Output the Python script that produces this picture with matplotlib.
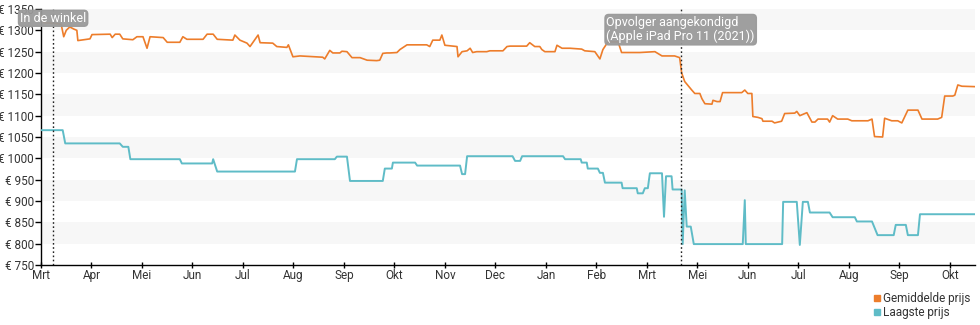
import matplotlib
matplotlib.use("Agg")
import matplotlib.pyplot as plt
from matplotlib.lines import Line2D

plt.rcParams['font.family'] = ['Roboto', 'DejaVu Sans']

# x in months since March 2020
month_labels = ['Mrt', 'Apr', 'Mei', 'Jun', 'Jul', 'Aug', 'Sep', 'Okt', 'Nov', 'Dec',
                'Jan', 'Feb', 'Mrt', 'Mei', 'Jun', 'Jul', 'Aug', 'Sep', 'Okt']
y_ticks = [750, 800, 850, 900, 950, 1000, 1050, 1100, 1150, 1200, 1250, 1300, 1350]

avg_x = [0.00, 0.05, 0.30, 0.40, 0.45, 0.50, 0.57, 0.65, 0.71, 0.73, 0.97, 1.01, 1.37, 1.41,
         1.47, 1.56, 1.62, 1.82, 1.90, 2.02, 2.10, 2.16, 2.42, 2.50, 2.75, 2.81, 2.89, 3.21,
         3.29, 3.41, 3.49, 3.80, 3.84, 3.94, 4.08, 4.14, 4.30, 4.34, 4.59, 4.67, 4.87, 4.90,
         4.99, 5.13, 5.58, 5.62, 5.72, 5.78, 5.92, 5.96, 6.06, 6.16, 6.32, 6.46, 6.65, 6.71,
         6.77, 6.85, 6.91, 7.05, 7.11, 7.25, 7.64, 7.70, 7.76, 7.90, 7.94, 8.00, 8.24, 8.26,
         8.34, 8.44, 8.50, 8.55, 8.63, 8.83, 8.89, 9.15, 9.23, 9.29, 9.62, 9.68, 9.78, 9.88,
         9.92, 9.98, 10.08, 10.18, 10.22, 10.32, 10.48, 10.71, 10.77, 10.97, 11.07, 11.13,
         11.23, 11.43, 11.50, 11.70, 11.86, 12.16, 12.30, 12.55, 12.65, 12.69, 12.75, 12.89,
         12.95, 13.05, 13.09, 13.15, 13.29, 13.31, 13.39, 13.45, 13.50, 13.88, 13.94, 14.00,
         14.08, 14.10, 14.20, 14.28, 14.30, 14.48, 14.53, 14.67, 14.73, 14.93, 14.97, 15.03,
         15.17, 15.27, 15.33, 15.39, 15.58, 15.62, 15.68, 15.78, 15.98, 16.06, 16.38, 16.46,
         16.51, 16.67, 16.71, 16.85, 16.97, 17.05, 17.17, 17.37, 17.45, 17.76, 17.84, 17.90,
         18.06, 18.10, 18.16, 18.24, 18.50]
avg_y = [1335, 1318, 1316, 1314, 1285, 1300, 1308, 1303, 1300, 1276, 1280, 1290, 1291, 1283,
         1291, 1291, 1280, 1278, 1285, 1285, 1258, 1285, 1283, 1272, 1272, 1285, 1279, 1279,
         1291, 1291, 1279, 1277, 1289, 1277, 1270, 1262, 1289, 1271, 1270, 1262, 1260, 1266,
         1238, 1240, 1237, 1233, 1253, 1247, 1247, 1251, 1250, 1236, 1236, 1230, 1229, 1230,
         1246, 1247, 1247, 1248, 1255, 1266, 1266, 1262, 1277, 1277, 1289, 1265, 1262, 1238,
         1250, 1252, 1258, 1248, 1250, 1250, 1252, 1252, 1262, 1263, 1263, 1271, 1262, 1262,
         1255, 1250, 1250, 1250, 1265, 1258, 1258, 1256, 1252, 1250, 1233, 1255,
         1273, 1273, 1248, 1248, 1248, 1250, 1240, 1240, 1236, 1200, 1180, 1160,
         1152, 1152, 1140, 1128, 1127, 1136, 1133, 1133, 1154, 1154, 1160, 1152,
         1152, 1098, 1096, 1093, 1087, 1087, 1083, 1087, 1105, 1106, 1110, 1100,
         1107, 1085, 1085, 1092, 1092, 1085, 1100, 1092, 1092, 1088, 1088, 1092,
         1051, 1050, 1094, 1088, 1088, 1083, 1113, 1113, 1092, 1092, 1096, 1146,
         1146, 1148, 1172, 1169, 1168]

low_x = [0.00, 0.43, 0.48, 1.56, 1.62, 1.73, 1.77, 2.75, 2.79, 3.39, 3.41, 3.49, 5.03, 5.07,
         5.82, 5.86, 6.06, 6.12, 6.77, 6.81, 6.95, 6.97, 7.41, 7.45, 8.30, 8.34, 8.40, 8.44,
         9.34, 9.39, 9.49, 9.53, 10.34, 10.38, 10.69, 10.71, 10.81, 10.83, 11.03, 11.07,
         11.13, 11.17, 11.50, 11.52, 11.80, 11.82, 11.92, 11.96, 12.02, 12.06, 12.30, 12.34,
         12.38, 12.49, 12.51, 12.69, 12.71, 12.75, 12.79, 12.87, 12.93, 13.90, 13.94, 13.96,
         14.68, 14.70, 14.97, 15.03, 15.09, 15.19, 15.23, 15.62, 15.68, 16.12, 16.16, 16.46,
         16.57, 16.89, 16.93, 17.13, 17.17, 17.37, 17.41, 18.50]
low_y = [1066, 1066, 1035, 1035, 1027, 1027, 998, 998, 988, 988, 998, 969, 969, 998,
         998, 1004, 1004, 947, 947, 976, 976, 990, 990, 983, 983, 963, 963, 1005,
         1005, 994, 994, 1005, 1005, 998, 998, 990, 990, 976, 976, 966,
         966, 943, 943, 930, 930, 918, 918, 930, 930, 965, 965, 863,
         958, 958, 927, 927, 799, 925, 840, 840, 799, 799, 902, 799,
         799, 898, 898, 797, 898, 898, 873, 873, 862, 862, 852, 852,
         820, 820, 844, 844, 820, 820, 869, 869]

events_x = [0.24, 12.67]
events_text = ['In de winkel', 'Opvolger aangekondigd\n(Apple iPad Pro 11 (2021))']

orange = '#ed7d2b'
teal = '#5fbcc7'
txt = '#333333'

fig = plt.figure(figsize=(9.8, 3.25), dpi=100)
ax = fig.add_axes([41 / 980, 60 / 325, 934 / 980, 256 / 325])

ax.set_xlim(0, 18.5)
ax.set_ylim(750, 1350)

for i, lo in enumerate(y_ticks[:-1]):
    if i % 2 == 1:
        ax.axhspan(lo, lo + 50, color='#f7f7f7', lw=0, zorder=0)

ax.plot(avg_x, avg_y, color=orange, lw=1.2, zorder=3)
ax.plot(low_x, low_y, color=teal, lw=1.4, zorder=3)

for ex in events_x:
    ax.axvline(ex, color='#222222', lw=1.0, ls=(0, (1.2, 1.8)), zorder=4)

offsets = [-2, -5]
for ex, t, off in zip(events_x, events_text, offsets):
    ax.annotate(t, xy=(ex, 1.0), xycoords=('data', 'axes fraction'),
                xytext=(0, off), textcoords='offset points', ha='center', va='top',
                multialignment='left',
                fontsize=9, color='white', linespacing=1.1, zorder=6,
                bbox=dict(boxstyle='round,pad=0.12,rounding_size=0.3', fc='#9a9a9a',
                          ec='#9a9a9a', alpha=0.95))

ax.set_xticks(range(len(month_labels)))
ax.set_xticklabels(month_labels)
ax.set_yticks(y_ticks)
ax.set_yticklabels([f'€ {v}' for v in y_ticks])
ax.tick_params(axis='both', labelsize=8.5, colors=txt, length=4, width=1)
ax.tick_params(axis='x', direction='inout', pad=1)
ax.tick_params(axis='y', pad=1)
for lab in ax.get_xticklabels() + ax.get_yticklabels():
    lab.set_color(txt)
ax.tick_params(axis='both', color='#000000')

for s in ['top', 'right']:
    ax.spines[s].set_visible(False)
for s in ['left', 'bottom']:
    ax.spines[s].set_color('#000000')
    ax.spines[s].set_linewidth(1.0)

handles = [Line2D([], [], ls='none', marker='s', markersize=5, color=orange),
           Line2D([], [], ls='none', marker='s', markersize=5, color=teal)]
leg = fig.legend(handles, ['Gemiddelde prijs', 'Laagste prijs'], loc='lower right',
                 bbox_to_anchor=(1.0, -0.012), frameon=False, fontsize=8.5,
                 handlelength=0.6, handletextpad=0.2, labelspacing=0.1, borderpad=0.3)
for t in leg.get_texts():
    t.set_color(txt)

fig.savefig('out.png', dpi=100)
